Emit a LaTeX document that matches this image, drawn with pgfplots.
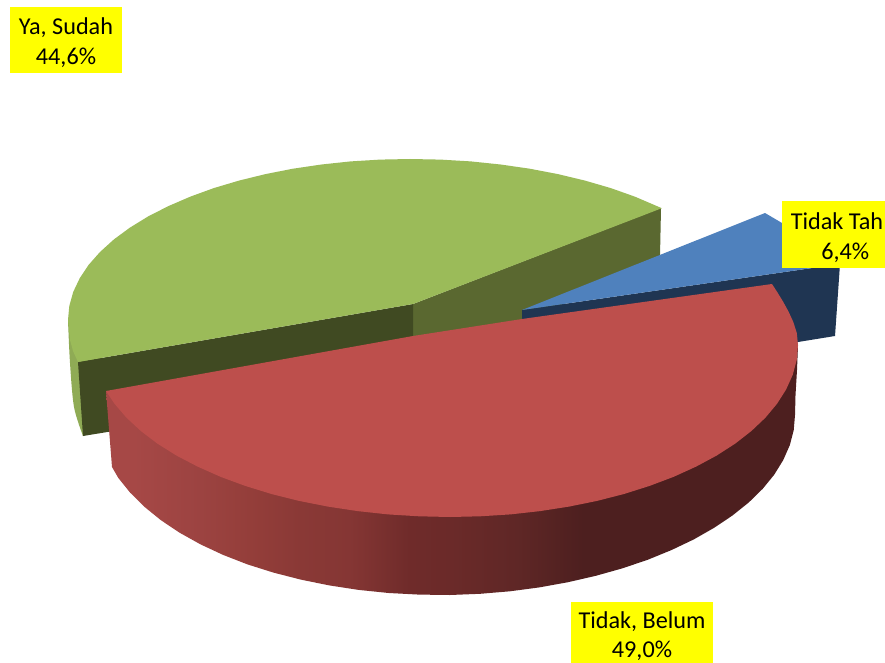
\documentclass[border=0pt]{standalone}
\usepackage{pgfplots}
\pgfplotsset{compat=1.18}
\usepackage{fontspec}
\setmainfont{Carlito}
\definecolor{gtop}{HTML}{9BBB59}
\definecolor{gside}{HTML}{8FAB55}
\definecolor{olive}{HTML}{5A6830}
\definecolor{gdark}{HTML}{404A22}
\definecolor{rtop}{HTML}{BD4F4C}
\definecolor{btop}{HTML}{4F81BD}
\definecolor{navy}{HTML}{1F3552}
\definecolor{lab}{HTML}{FFFF00}
\definecolor{ra}{HTML}{A64846}
\definecolor{rb}{HTML}{9C4341}
\definecolor{rc}{HTML}{943E3A}
\definecolor{rd}{HTML}{8A3936}
\definecolor{rd2}{HTML}{853634}
\definecolor{re}{HTML}{6F2B2A}
\definecolor{rf}{HTML}{6B2A29}
\definecolor{rg}{HTML}{5F2726}
\definecolor{rh}{HTML}{4D1F1F}
\pgfdeclarehorizontalshading{redside}{100bp}{
color(0bp)=(ra);
color(27bp)=(ra);
color(31.8bp)=(rb);
color(35.4bp)=(rc);
color(39bp)=(rd);
color(42.6bp)=(rd2);
color(47bp)=(re);
color(49.9bp)=(rf);
color(54.7bp)=(rg);
color(59.5bp)=(rh);
color(100bp)=(rh)}
\begin{document}
\begin{tikzpicture}
\begin{axis}[scale only axis,width=885pt,height=663pt,xmin=0,xmax=885,ymin=0,ymax=663,y dir=reverse,hide axis,clip=true]
% page background
\addplot[fill=white,draw=none] coordinates {(0,0)(885,0)(885,663)(0,663)} -- cycle;
% green outer side
\addplot[fill=gside,draw=none,smooth] coordinates {(68,320)(70,363)(74,407)(83,436)} -- (100,400) -- (100,330) -- cycle;
% olive cut face
\addplot[fill=olive,draw=none] coordinates {(661,208)(660,256)(522,325)(413,345)(413,304)} -- cycle;
% dark cut face
\addplot[fill=gdark,draw=none] coordinates {(78,362)(413,304)(413,345)(150,425)(83,436)} -- cycle;
% green top
\addplot[fill=gtop,draw=none] coordinates {(78,362)(73,351)(70,340)(68,320)(69.3,306)(73.2,292)(79.7,278.3)(88.6,264.9)(100,252)(113.8,239.5)(129.8,227.7)(148,216.5)(168.2,206.2)(190.2,196.7)(213.8,188.1)(239,180.6)(265.5,174.1)(293,168.7)(321.5,164.5)(350.6,161.4)(380.2,159.6)(410,159)(440.5,159.6)(470.8,161.4)(500.6,164.5)(529.7,168.7)(557.9,174.1)(585,180.6)(610.8,188.1)(635,196.7)(661.8,208.2)(413,304)} -- cycle;
% navy side of blue
\addplot[fill=navy,draw=none] coordinates {(522,310)(522,322)(700,330)(798,342)(835,336)(840,264)} -- cycle;
% blue top
\addplot[fill=btop,draw=none] coordinates {(522,310)(765,213)(782,223)(810,240)(830,255)(840,264)} -- cycle;
% red side
\addplot[shading=redside,draw=none] coordinates {(112,467)(118.3,477.9)(130.1,492.6)(144.3,506.7)(160.8,520.1)(179.6,532.7)(200.4,544.3)(223.1,554.9)(247.5,564.4)(273.5,572.6)(300.8,579.6)(329.3,585.4)(358.6,589.9)(388.7,593)(419.2,594.6)(450,595)(480.1,593.8)(509.9,591.3)(539.3,587.4)(568,582.2)(595.8,575.8)(622.5,568.3)(647.9,559.7)(671.8,549.9)(694,539.3)(714.3,527.7)(732.6,515.4)(748.8,502.4)(762.7,488.8)(774.2,474.7)(783.2,460.1)(789.8,445.2)(793.7,430.2)(795,415)(795.5,395)(797,370)(798,345)(600,400)(106,391)} -- cycle;
% red top
\addplot[fill=rtop,draw=none] coordinates {(106,391)(114.5,403.8)(126.5,417.7)(140.8,431)(157.5,443.7)(176.5,455.6)(197.6,466.6)(220.5,476.8)(245.2,485.9)(271.5,494)(299.1,500.9)(327.9,506.6)(357.6,511.1)(388,514.4)(418.9,516.3)(450,517)(480.3,516.3)(510.4,514.4)(540.1,511.1)(569,506.6)(597.1,500.9)(624,494)(649.6,485.9)(673.7,476.8)(696.1,466.6)(716.6,455.6)(735.1,443.7)(751.4,431)(765.4,417.7)(777,403.8)(786.1,389.5)(792.7,374.9)(796.7,360)(798,345)(796.8,333)(793.3,322)(788.5,311.5)(783,301.5)(777.5,292.5)(772,284)(522,319)(413,336)} -- cycle;
% label boxes
\addplot[fill=lab,draw=none] coordinates {(10,7)(122,7)(122,73)(10,73)} -- cycle;
\addplot[fill=lab,draw=none] coordinates {(782,201)(885,201)(885,268)(782,268)} -- cycle;
\addplot[fill=lab,draw=none] coordinates {(571,602)(713,602)(713,663)(571,663)} -- cycle;
\node[font=\fontsize{24.2}{29.5}\selectfont,align=center,inner sep=0pt] at (axis cs:66,42.5) {Ya, Sudah\\44,6\%};
\node[font=\fontsize{24.2}{29.5}\selectfont,align=center,inner sep=0pt] at (axis cs:837,237.5) {Tidak Tah\\\ \ \ 6,4\%};
\node[font=\fontsize{24.2}{29}\selectfont,align=center,inner sep=0pt] at (axis cs:642,636.5) {Tidak, Belum\\49,0\%};
\end{axis}
\end{tikzpicture}
\end{document}
